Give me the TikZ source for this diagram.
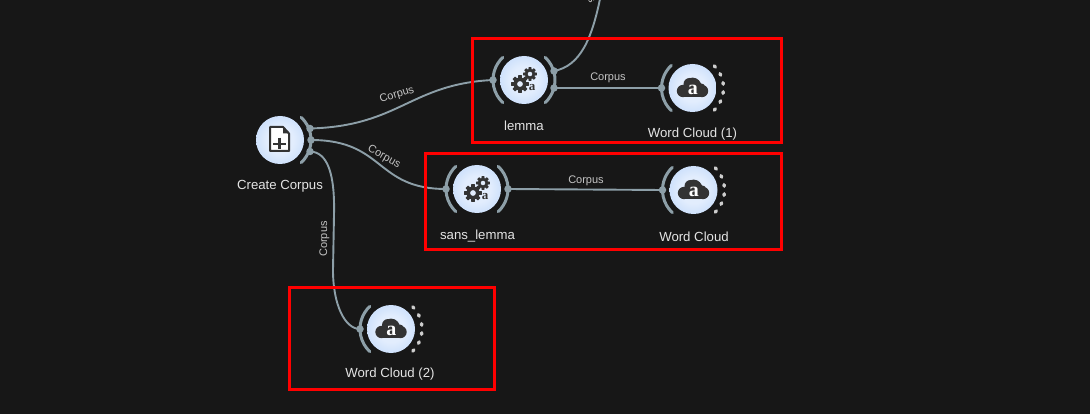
\documentclass[tikz,border=0pt]{standalone}
\usepackage{fontspec}
\setmainfont{Liberation Sans}
\newfontfamily\iconfont{Liberation Serif}
\usetikzlibrary{calc}
\definecolor{bgc}{HTML}{171717}
\definecolor{edgec}{HTML}{8D9FA8}
\definecolor{boxc}{HTML}{FF0000}
\definecolor{ballin}{HTML}{E2EDFD}
\definecolor{ballout}{HTML}{BCD6FA}
\definecolor{iconc}{HTML}{333333}
\definecolor{labc}{HTML}{E4E4E4}
\definecolor{elabc}{HTML}{C4C4C4}
\pgfdeclareradialshading{nodeball}{\pgfpoint{0bp}{0bp}}{color(0bp)=(ballin); color(14bp)=(ballin); color(36bp)=(ballout); color(50bp)=(ballout)}
\tikzset{
  ball/.style={circle,minimum size=48pt,inner sep=0pt,shading=nodeball},
  wire/.style={draw=edgec,line width=1.9pt},
  portarc/.style={draw=edgec,line width=3pt,line cap=round},
  portdot/.style={fill=edgec,circle,inner sep=0pt,minimum size=7.5pt},
  redbox/.style={draw=boxc,line width=3pt},
  nlabel/.style={text=labc,font=\fontsize{13.2}{15}\selectfont,inner sep=0pt},
  elabel/.style={text=elabc,font=\fontsize{11}{13}\selectfont,inner sep=0pt},
}
\newcommand{\cloudicon}[1]{
  \begin{scope}[shift={(#1)}]
    \fill[iconc] (-9.5,3) circle (6.2) (9.5,3) circle (6.2) (0,-1.5) circle (8.9) (-3,-4) circle (6) (9,-1) circle (3.5);
    \fill[iconc] (-9.5,-3.2) rectangle (9.5,9.2);
    \node[text=white,inner sep=0pt,font=\iconfont\bfseries\fontsize{20}{20}\selectfont] at (0.3,1.5) {a};
  \end{scope}}
\newcommand{\dotarc}[1]{
  \foreach \a in {-44,-26,-8.5,8.5,26,44}{
    \draw[draw=labc!90!black,line width=3.4pt,line cap=round] ($(#1)+(\a-1.5:31pt)$) arc (\a-1.5:\a+1.5:31pt);
  }}
\newcommand{\gear}[4]{% x, y, outer radius, hole radius
  \begin{scope}[shift={(#1,#2)}]
  \fill[iconc,even odd rule] (-11:#3)
    \foreach \t in {0,45,...,315}{
      -- (\t-11:#3) -- (\t+11:#3) -- (\t+18:#3*0.72) -- (\t+27:#3*0.72)
    } -- cycle
    (0,0) circle (#4);
  \end{scope}}
\newcommand{\gearsicon}[1]{
  \begin{scope}[shift={(#1)}]
  \gear{-4}{4}{9}{3}
  \gear{6}{-6}{7}{2.4}
  \node[text=iconc,inner sep=0pt,font=\iconfont\bfseries\fontsize{13}{13}\selectfont] at (8,8) {a};
  \end{scope}}
\begin{document}
\begin{tikzpicture}[x=1pt,y=-1pt]
\useasboundingbox (0,0) rectangle (1090,414);
\fill[bgc] (0,0) rectangle (1090,414);
\clip (0,0) rectangle (1090,414);

% widgets
\node[ball] (cc) at (280,140) {};
\node[ball] (lem) at (524,80) {};
\node[ball] (wc1) at (692.5,88) {};
\node[ball] (san) at (477,189) {};
\node[ball] (wc0) at (693.5,190) {};
\node[ball] (wc2) at (391,329) {};

% ports
\coordinate (ccA) at (310,128.5);
\coordinate (ccB) at (311,140);
\coordinate (ccC) at (310,151.5);
\coordinate (lemIn) at (493,80);
\coordinate (lemA) at (554,71);
\coordinate (lemB) at (554,88);
\coordinate (wc1In) at (661.5,88);
\coordinate (sanIn) at (446,189);
\coordinate (sanOut) at (508,189);
\coordinate (wc0In) at (662.5,190);
\coordinate (wc2In) at (360,329);
\coordinate (offTop) at (601,-6);

% connectors
\draw[wire] (ccA) .. controls (400,126) and (410,84) .. (lemIn);
\draw[wire] (ccB) .. controls (385,140) and (375,189) .. (sanIn);
\draw[wire] (ccC) .. controls (328,152) and (335,175) .. (334,215) -- (333,270) .. controls (333,305) and (345,329) .. (wc2In);
\draw[wire] (lemA) .. controls (580,66) and (592,40) .. (offTop);
\draw[wire] (lemB) -- (wc1In);
\draw[wire] (sanOut) -- (wc0In);

% port arcs and dots
\draw[portarc] ($(cc)+(-47:31pt)$) arc (-47:47:31pt);
\draw[portarc] ($(lem)+(-47:31pt)$) arc (-47:47:31pt);
\draw[portarc] ($(san)+(-47:31pt)$) arc (-47:47:31pt);
\draw[portarc] ($(lem)+(133:31pt)$) arc (133:227:31pt);
\draw[portarc] ($(san)+(133:31pt)$) arc (133:227:31pt);
\draw[portarc] ($(wc0)+(133:31pt)$) arc (133:227:31pt);
\draw[portarc] ($(wc1)+(133:31pt)$) arc (133:227:31pt);
\draw[portarc] ($(wc2)+(133:31pt)$) arc (133:227:31pt);
\foreach \p in {ccA,ccB,ccC,lemIn,lemA,lemB,wc1In,sanIn,sanOut,wc0In,wc2In}{
  \node[portdot] at (\p) {};
}
\dotarc{wc1}\dotarc{wc0}\dotarc{wc2}

% icons
\begin{scope}[shift={(cc)}]
  \draw[iconc,line width=2pt,fill=white,line join=round] (-10,-13) -- (3,-13) -- (9,-6.5) -- (9,11) -- (-10,11) -- cycle;
  \fill[iconc] (3,-13) -- (3,-6.5) -- (9,-6.5) -- cycle;
  \draw[iconc,line width=2.2pt] (-7,4) -- (6,4) (-0.5,-2.3) -- (-0.5,9.3);
\end{scope}
\gearsicon{lem}\gearsicon{san}
\cloudicon{wc1}\cloudicon{wc0}\cloudicon{wc2}

% names
\node[nlabel] at (280,186.5) {Create Corpus};
\node[nlabel] at (524,125.5) {lemma};
\node[nlabel] at (692.5,134) {Word Cloud (1)};
\node[nlabel] at (477.5,236) {sans\_lemma};
\node[nlabel] at (694,237) {Word Cloud};
\node[nlabel] at (390,374.5) {Word Cloud (2)};

% edge labels
\node[elabel,rotate=17] at (397,95) {Corpus};
\node[elabel,rotate=-29] at (384,157) {Corpus};
\node[elabel,rotate=90] at (324.5,239) {Corpus};
\node[elabel] at (608,78) {Corpus};
\node[elabel] at (586,181) {Corpus};
\node[elabel,rotate=-66] at (585,-14) {Corpus};

% red boxes
\draw[redbox] (472,39) rectangle (781,143);
\draw[redbox] (425,154) rectangle (781,250);
\draw[redbox] (289,287) rectangle (494,389);
\end{tikzpicture}
\end{document}
